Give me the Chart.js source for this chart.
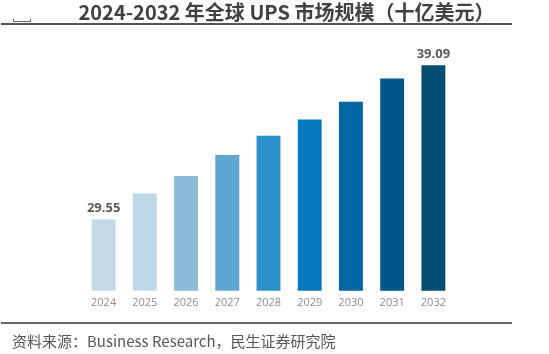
<!DOCTYPE html>
<html>
<head>
<meta charset="utf-8">
<script src="https://cdn.jsdelivr.net/npm/chart.js@4.4.1/dist/chart.umd.min.js"></script>
<style>
  html, body { margin:0; padding:0; background:#fff; }
  #wrap { position:relative; width:549px; height:354px; overflow:hidden; }
  #c { position:absolute; left:0; top:0; }
  #title { position:absolute; left:0; top:0px; width:573px; text-align:center; font-family:"Noto Sans CJK SC", sans-serif; font-weight:bold; font-size:20px; color:#404040; line-height:24px; white-space:nowrap; }
  #topline { position:absolute; left:1px; top:23px; width:511px; height:2px; background:#555; }
  #mark { position:absolute; left:13px; top:19px; width:16px; height:2px; border:1px solid #666; border-top:none; }
  #botline { position:absolute; left:1px; top:322px; width:511px; height:2px; background:#666; }
  #source { position:absolute; left:12px; top:332px; font-family:"Noto Sans CJK SC", sans-serif; font-size:15px; color:#555; line-height:18px; white-space:nowrap; }
</style>
</head>
<body>
<div id="wrap">
  <canvas id="c" width="549" height="354"></canvas>
  <div id="mark"></div>
  <div id="title">2024-2032 年全球 UPS 市场规模（十亿美元）</div>
  <div id="topline"></div>
  <div id="botline"></div>
  <div id="source">资料来源：Business Research，民生证券研究院</div>
</div>
<script>
const years = ["2024","2025","2026","2027","2028","2029","2030","2031","2032"];
const marketSize = [29.55, 31.14, 32.23, 33.53, 34.72, 35.73, 36.83, 38.26, 39.09];
const shownLabels = ["29.55", "", "", "", "", "", "", "", "39.09"];
const barColors = ["#c3dbe9","#bcd8ea","#8cbbd8","#5ea5d0","#2c90cb","#0479be","#0266a5","#02578a","#044d72"];

const valueLabels = {
  id: "valueLabels",
  afterDatasetsDraw(chart) {
    const ctx = chart.ctx;
    const meta = chart.getDatasetMeta(0);
    ctx.save();
    ctx.font = "bold 13px 'Open Sans', sans-serif";
    ctx.fillStyle = "#595959";
    ctx.textAlign = "center";
    ctx.textBaseline = "middle";
    meta.data.forEach((bar, i) => {
      if (shownLabels[i]) ctx.fillText(shownLabels[i], bar.x, bar.y - 11);
    });
    ctx.restore();
  }
};

new Chart(document.getElementById("c"), {
  type: "bar",
  data: {
    labels: years,
    datasets: [{
      data: marketSize,
      backgroundColor: barColors,
      borderWidth: 0,
      barPercentage: 0.58,
      categoryPercentage: 1.0
    }]
  },
  options: {
    responsive: false,
    animation: false,
    layout: { padding: { left: 83, right: 95, top: 40, bottom: 40 } },
    plugins: { legend: { display: false }, tooltip: { enabled: false } },
    scales: {
      x: {
        grid: { display: false, drawTicks: false },
        border: { display: false },
        ticks: { color: "#8c8c8c", padding: 5, font: { size: 11, family: "'Open Sans', sans-serif" } }
      },
      y: {
        display: false,
        min: 25.12,
        max: 40.65
      }
    }
  },
  plugins: [valueLabels]
});
</script>
</body>
</html>
